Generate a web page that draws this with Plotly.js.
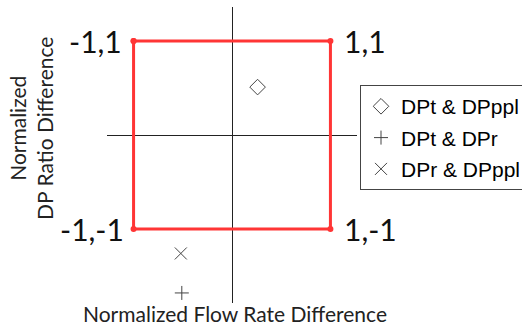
<!DOCTYPE html>
<html>
<head>
<meta charset="utf-8">
<script src="https://cdn.plot.ly/plotly-3.0.1.min.js"></script>
<style>
  html, body { margin: 0; padding: 0; background: #fff; }
  #chart { width: 522px; height: 328px; }
</style>
</head>
<body>
<div id="chart"></div>
<script>
// bounding square (normalized limits)
var squareX = [-1, 1, 1, -1, -1];
var squareY = [1, 1, -1, -1, 1];
var cornerLabels = ['-1,1', '1,1', '1,-1', '-1,-1'];

// comparison points
var seriesNames = ['DPt & DPppl', 'DPt & DPr', 'DPr & DPppl'];
var seriesX = [0.26, -0.51, -0.52];
var seriesY = [0.51, -1.68, -1.26];
var symbols = ['diamond-open', 'cross-thin-open', 'x-thin-open'];
var sizes = [12, 10, 12];

var data = [{
  x: squareX,
  y: squareY,
  mode: 'lines+markers',
  type: 'scatter',
  line: { color: '#ff3535', width: 3 },
  marker: { color: '#ff3535', size: 6 },
  showlegend: false,
  hoverinfo: 'skip'
}];

for (var i = 0; i < seriesNames.length; i++) {
  data.push({
    x: [seriesX[i]],
    y: [seriesY[i]],
    name: seriesNames[i],
    legendgroup: 'g' + i,
    mode: 'markers',
    type: 'scatter',
    marker: {
      symbol: symbols[i],
      size: sizes[i],
      color: '#444',
      line: { color: '#444', width: 1 }
    }
  });
}

var xshifts = [-10, 12, 12, -8];
var anchors = ['right', 'left', 'left', 'right'];
var annotations = [];
for (var k = 0; k < 4; k++) {
  annotations.push({
    x: squareX[k],
    y: squareY[k],
    text: cornerLabels[k],
    showarrow: false,
    xanchor: anchors[k],
    yanchor: 'middle',
    xshift: xshifts[k],
    font: { family: 'Lato', size: 30, color: '#111' }
  });
}
annotations.push({
  xref: 'paper', yref: 'paper',
  x: 0.512, y: -0.037,
  text: 'Normalized Flow Rate Difference',
  showarrow: false,
  xanchor: 'center', yanchor: 'middle',
  font: { family: 'Lato', size: 21, color: '#222' }
});
annotations.push({
  xref: 'paper', yref: 'paper',
  x: -0.304, y: 0.588,
  text: 'Normalized<br>DP Ratio Difference',
  textangle: -90,
  showarrow: false,
  xanchor: 'center', yanchor: 'middle',
  font: { family: 'Lato', size: 21, color: '#222' }
});

var layout = {
  width: 522,
  height: 328,
  margin: { l: 107, r: 165, t: 7, b: 25, autoexpand: false },
  paper_bgcolor: '#fff',
  plot_bgcolor: '#fff',
  xaxis: {
    range: [-1.27, 1.27],
    showgrid: false,
    showticklabels: false,
    ticks: '',
    zeroline: true,
    zerolinecolor: '#222',
    zerolinewidth: 1,
    showline: false
  },
  yaxis: {
    range: [-1.787, 1.362],
    showgrid: false,
    showticklabels: false,
    ticks: '',
    zeroline: true,
    zerolinecolor: '#222',
    zerolinewidth: 1,
    showline: false
  },
  showlegend: true,
  legend: {
    x: 1.012, y: 0.736,
    xanchor: 'left', yanchor: 'top',
    bordercolor: '#444',
    borderwidth: 1,
    bgcolor: '#fff',
    traceorder: 'grouped',
    tracegroupgap: 1,
    font: { family: 'Liberation Sans', size: 21, color: '#000' }
  },
  annotations: annotations
};

Plotly.newPlot('chart', data, layout, { displayModeBar: false, staticPlot: true });
</script>
</body>
</html>
